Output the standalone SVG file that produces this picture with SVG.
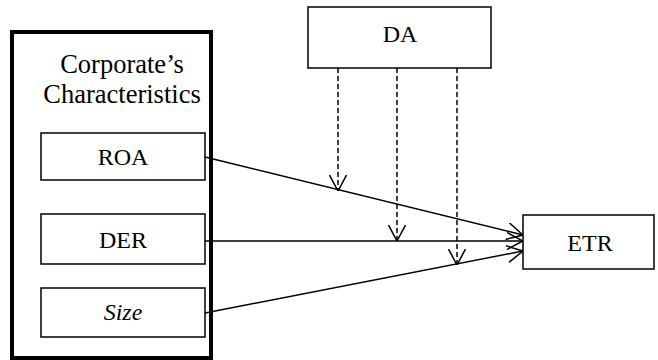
<svg xmlns="http://www.w3.org/2000/svg" width="658" height="360" viewBox="0 0 658 360">
<defs>
<style>
.box{fill:#fff;stroke:#000;stroke-width:1.5}
.t{font-family:"Liberation Serif","Times New Roman",serif;font-size:24px;fill:#000;text-anchor:middle}
.h{font-size:26.5px}
.c{stroke:#000;stroke-width:1.5;fill:none}
.d{stroke:#000;stroke-width:1.5;fill:none;stroke-dasharray:5 3}
</style>
<marker id="ah" viewBox="0 0 16 18" refX="16" refY="9" markerWidth="16" markerHeight="18" markerUnits="userSpaceOnUse" orient="auto">
<path d="M0,0.5 L16,9 L0,17.5" fill="none" stroke="#000" stroke-width="1.5"/>
</marker>
</defs>
<g id="corporate">
<rect x="12" y="32" width="199" height="326" fill="#fff" stroke="#000" stroke-width="4"/>
<text class="t h" x="122" y="73">Corporate’s</text>
<text class="t h" x="122" y="103">Characteristics</text>
</g>
<g id="roa"><rect class="box" x="41" y="133" width="164" height="47"/><text class="t" x="123" y="165">ROA</text></g>
<g id="der"><rect class="box" x="41" y="214" width="164" height="50"/><text class="t" x="123" y="248">DER</text></g>
<g id="size"><rect class="box" x="41" y="288" width="164" height="49"/><text class="t" x="123" y="320" font-style="italic">Size</text></g>
<g id="da"><rect class="box" x="308" y="7" width="183" height="61"/><text class="t" x="400" y="42">DA</text></g>
<g id="etr"><rect class="box" x="523" y="215" width="131" height="54"/><text class="t" x="590" y="251">ETR</text></g>
<g id="connectors">
<line class="c" x1="205" y1="157" x2="523" y2="235" marker-end="url(#ah)"/>
<line class="c" x1="205" y1="241" x2="523" y2="241" marker-end="url(#ah)"/>
<line class="c" x1="205" y1="313" x2="523" y2="251" marker-end="url(#ah)"/>
<line class="d" x1="338" y1="68" x2="338" y2="191" marker-end="url(#ah)"/>
<line class="d" x1="397" y1="68" x2="397" y2="241" marker-end="url(#ah)"/>
<line class="d" x1="457" y1="68" x2="457" y2="265" marker-end="url(#ah)"/>
</g>
</svg>
